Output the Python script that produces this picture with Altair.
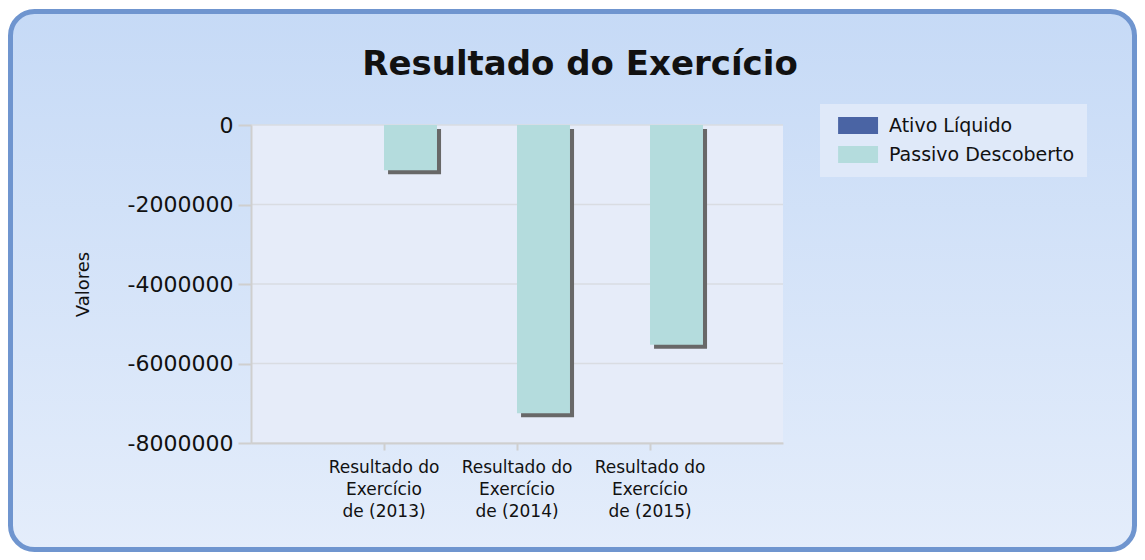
import altair as alt
import pandas as pd

categories = [
    "Resultado do Exercício de (2013)",
    "Resultado do Exercício de (2014)",
    "Resultado do Exercício de (2015)",
]
series = ["Ativo Líquido", "Passivo Descoberto"]
ativo_liquido = [0, 0, 0]
passivo_descoberto = [-1140000, -7250000, -5530000]
y_ticks = [0, -2000000, -4000000, -6000000, -8000000]
title_text = "Resultado do Exercício"
y_title = "Valores"

rows = []
for i, c in enumerate(categories):
    rows.append({"cat": c, "serie": series[0], "valor": ativo_liquido[i]})
    rows.append({"cat": c, "serie": series[1], "valor": passivo_descoberto[i]})
df = pd.DataFrame(rows)
grid_df = pd.DataFrame({"v": y_ticks})
one_df = pd.DataFrame({"t": [title_text]})

W, H = 532, 318
FONT = "DejaVu Sans"
TXT = "#111111"
AXC = "#cfcfcf"

yscale = alt.Scale(domain=[-8000000, 0], nice=False)
xscale = alt.Scale(paddingInner=0, paddingOuter=0.5)

y_axis = alt.Axis(
    title=y_title, values=y_ticks, labelExpr="'' + datum.value", grid=False,
    domainColor=AXC, domainWidth=2, tickColor=AXC, tickWidth=2, tickSize=13,
    labelFont=FONT, labelFontSize=22, labelColor=TXT, labelPadding=5,
    titleFont=FONT, titleFontSize=18, titleFontWeight="normal", titleColor=TXT,
    titleX=-168, titleY=159, titleBaseline="middle", titleAngle=270, zindex=1,
)
x_axis = alt.Axis(
    title=None, labelAngle=0,
    labelExpr="[slice(datum.label,0,12), slice(datum.label,13,22), slice(datum.label,23)]",
    labelFont=FONT, labelFontSize=17, labelLineHeight=22, labelPadding=9, labelColor=TXT,
    domainColor=AXC, domainWidth=2, tickColor=AXC, tickWidth=2, tickSize=7, grid=False,
    zindex=1,
)

frame = alt.Chart(one_df).mark_rect(
    cornerRadius=24, stroke="#6f95cf", strokeWidth=5,
    fill=alt.LinearGradient(
        gradient="linear", x1=0, x2=0, y1=0, y2=1,
        stops=[alt.GradientStop(color="#c6daf6", offset=0),
               alt.GradientStop(color="#e4edfb", offset=1)],
    ),
).encode(x=alt.value(-240.5), x2=alt.value(883.5), y=alt.value(-113.5), y2=alt.value(424.5))

plot_bg = alt.Chart(one_df).mark_rect(fill="#e6ecf9").encode(
    x=alt.value(0), x2=alt.value(W), y=alt.value(0), y2=alt.value(H)
)

title = alt.Chart(one_df).mark_text(
    font=FONT, fontSize=34, fontWeight="bold", color=TXT, align="center", baseline="alphabetic"
).encode(text="t:N", x=alt.value(329), y=alt.value(-50))

grid = alt.Chart(grid_df).mark_rule(color="#d9dce2", strokeWidth=1.5).encode(
    y=alt.Y("v:Q", scale=yscale, axis=y_axis), x=alt.value(0), x2=alt.value(W)
)

shadow = alt.Chart(df).mark_bar(color="#686868", yOffset=4, y2Offset=4).encode(
    x=alt.X("cat:N", sort=categories, scale=xscale, axis=x_axis),
    xOffset=alt.XOffset("serie:N", sort=series,
                        scale=alt.Scale(paddingInner=0, paddingOuter=0.255, align=0.65)),
    y=alt.Y("valor:Q", scale=yscale, axis=y_axis),
)

bars = alt.Chart(df).mark_bar().encode(
    x=alt.X("cat:N", sort=categories, scale=xscale, axis=x_axis),
    xOffset=alt.XOffset("serie:N", sort=series,
                        scale=alt.Scale(paddingInner=0, paddingOuter=0.255, align=0.5)),
    y=alt.Y("valor:Q", scale=yscale, axis=y_axis),
    color=alt.Color(
        "serie:N", sort=series,
        scale=alt.Scale(domain=series, range=["#4a64a4", "#b4dcdd"]),
        legend=alt.Legend(
            title=None, orient="none", legendX=569, legendY=-21, fillColor="#dfe9f9",
            padding=12, symbolType="M-0.4,-1H4.3V1H-0.4Z", symbolSize=289,
            symbolStrokeWidth=0, symbolOpacity=1, labelFont=FONT, labelFontSize=19,
            labelColor=TXT, labelOffset=38, rowPadding=9, labelLimit=400,
        ),
    ),
)

chart = alt.layer(frame, plot_bg, title, grid, shadow, bars).resolve_scale(
    xOffset="independent"
).properties(
    width=W, height=H,
    padding={"left": 243, "top": 117, "right": 354, "bottom": 109},
    autosize=alt.AutoSizeParams(type="none"),
    background="white",
).configure_view(stroke=None)

chart.save("out.html", embed_options={"renderer": "svg", "actions": False})
